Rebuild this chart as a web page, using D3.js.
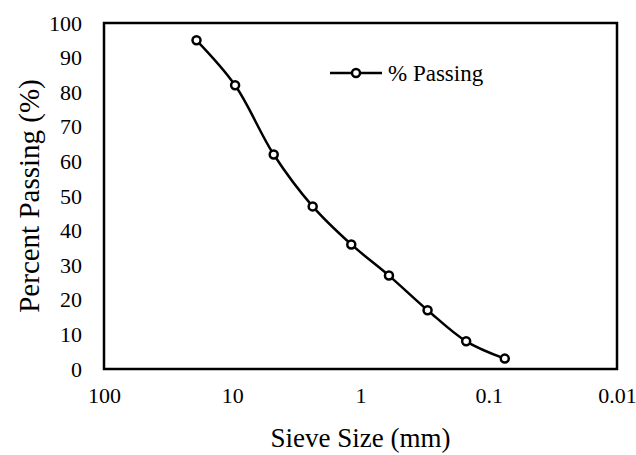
<!DOCTYPE html>
<html lang="en">
<head>
    <meta charset="UTF-8">
    <title>Sieve Analysis - Percent Passing</title>
    <script src="https://d3js.org/d3.v7.min.js"></script>
    <style>
        body {
            margin: 0;
            background: #fff;
        }
        svg text {
            font-family: "Liberation Serif", "Times New Roman", serif;
            fill: #000;
        }
    </style>
</head>
<body>
    <div id="chart"></div>
    <script>
        // sieve sizes (mm) and percent passing
        const sieveSizes = [19, 9.5, 4.75, 2.36, 1.18, 0.6, 0.3, 0.15, 0.075];
        const percentPassing = [95, 82, 62, 47, 36, 27, 17, 8, 3];
        const xTicks = [100, 10, 1, 0.1, 0.01];
        const yTicks = [0, 10, 20, 30, 40, 50, 60, 70, 80, 90, 100];
        const seriesName = "% Passing";

        const W = 636, H = 455;
        const margin = { top: 23, right: 19, bottom: 86, left: 104 };
        const width = W - margin.left - margin.right;
        const height = H - margin.top - margin.bottom;

        const data = sieveSizes.map((s, i) => ({ size: s, pass: percentPassing[i] }));

        const svg = d3.select("#chart")
            .append("svg")
            .attr("width", W)
            .attr("height", H);

        const g = svg.append("g")
            .attr("transform", `translate(${margin.left},${margin.top})`);

        // reversed log scale, coarse on the left
        const x = d3.scaleLog()
            .domain([100, 0.01])
            .range([0, width]);

        const y = d3.scaleLinear()
            .domain([0, 100])
            .range([height, 0]);

        const xAxis = g.append("g")
            .attr("transform", `translate(0,${height})`)
            .call(d3.axisBottom(x).tickValues(xTicks).tickSize(0).tickPadding(18)
                .tickFormat(d => String(d)));
        xAxis.select(".domain").remove();

        const yAxis = g.append("g")
            .call(d3.axisLeft(y).tickValues(yTicks).tickSize(0).tickPadding(22));
        yAxis.select(".domain").remove();

        g.selectAll(".tick text")
            .attr("font-size", 22);

        // plot border
        g.append("rect")
            .attr("x", 0)
            .attr("y", 0)
            .attr("width", width)
            .attr("height", height)
            .attr("fill", "none")
            .attr("stroke", "#000")
            .attr("stroke-width", 2.5);

        const line = d3.line()
            .x(d => x(d.size))
            .y(d => y(d.pass))
            .curve(d3.curveCatmullRom.alpha(0.5));

        g.append("path")
            .datum(data)
            .attr("d", line)
            .attr("fill", "none")
            .attr("stroke", "#000")
            .attr("stroke-width", 2.5);

        g.selectAll(".pt")
            .data(data)
            .enter()
            .append("circle")
            .attr("class", "pt")
            .attr("cx", d => x(d.size))
            .attr("cy", d => y(d.pass))
            .attr("r", 4)
            .attr("fill", "#fff")
            .attr("stroke", "#000")
            .attr("stroke-width", 2.5);

        // legend
        const lg = svg.append("g").attr("transform", "translate(330,73)");
        lg.append("line")
            .attr("x1", 0).attr("x2", 52)
            .attr("y1", 0).attr("y2", 0)
            .attr("stroke", "#000")
            .attr("stroke-width", 2.5);
        lg.append("circle")
            .attr("cx", 26).attr("cy", 0).attr("r", 4)
            .attr("fill", "#fff")
            .attr("stroke", "#000")
            .attr("stroke-width", 2.5);
        lg.append("text")
            .attr("x", 58)
            .attr("y", 8)
            .attr("font-size", 23)
            .text(seriesName);

        // axis titles
        svg.append("text")
            .attr("x", margin.left + width / 2)
            .attr("y", 447)
            .attr("text-anchor", "middle")
            .attr("font-size", 27)
            .text("Sieve Size (mm)");

        svg.append("text")
            .attr("transform", `translate(39,${margin.top + height / 2}) rotate(-90)`)
            .attr("text-anchor", "middle")
            .attr("font-size", 29)
            .text("Percent Passing (%)");
    </script>
</body>
</html>
